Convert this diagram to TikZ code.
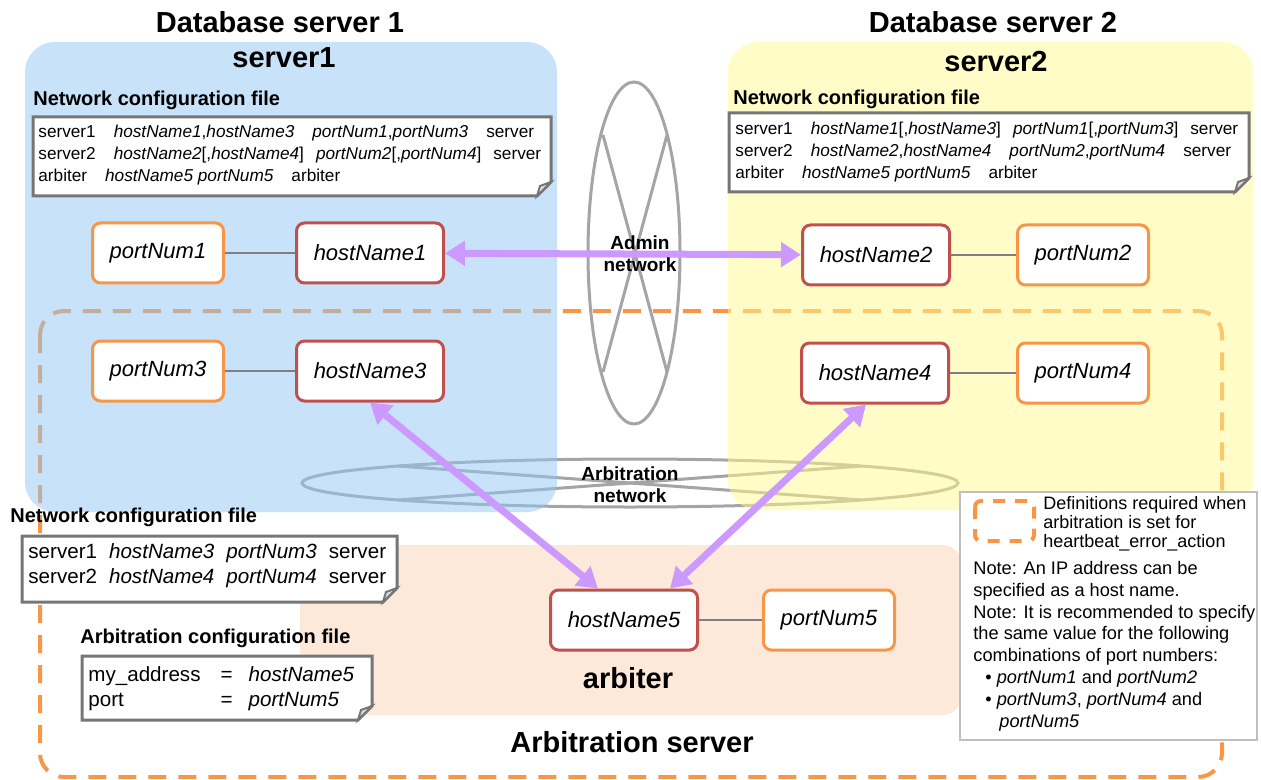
\documentclass[tikz,border=0pt]{standalone}
\usepackage{fontspec}
\setmainfont{Liberation Sans}
\usepackage{tikz}
\usetikzlibrary{calc, arrows.meta}

\definecolor{srvblue}{RGB}{145,197,245}
\definecolor{srvyellow}{RGB}{255,249,145}
\definecolor{arbpeach}{RGB}{253,233,217}
\definecolor{hostred}{RGB}{192,80,77}
\definecolor{portorange}{RGB}{247,150,70}
\definecolor{netpurple}{RGB}{204,153,255}
\definecolor{netgray}{RGB}{165,165,165}
\definecolor{filegray}{RGB}{118,118,118}

% folded-corner file box, corners in pixel units
\newcommand{\cfgfile}[4]{%
	\filldraw[filebox] (#1,#2) -- (#3,#2) -- (#3,#4-14) -- (#3-14,#4) -- (#1,#4) -- cycle;
	\filldraw[filefold] (#3,#4-14) -- (#3-11,#4-10) -- (#3-14,#4) -- cycle;
}
\newcommand{\colgap}{\hspace{9pt}}

\begin{document}
\begin{tikzpicture}[x=0.5pt, y=-0.5pt,
		title/.style={font=\fontsize{14.5}{17}\selectfont\bfseries},
		cfglabel/.style={anchor=west, inner sep=0pt, font=\fontsize{10}{12}\selectfont\bfseries},
		cfgtext/.style={anchor=west, inner sep=0pt, align=left, font=\fontsize{8.6}{11}\selectfont},
		arbtext/.style={anchor=west, inner sep=0pt, align=left, font=\fontsize{10.3}{12.5}\selectfont},
		legtext/.style={inner sep=0pt, align=left, font=\fontsize{9.1}{10.9}\selectfont},
		netname/.style={align=center, inner sep=1pt, font=\fontsize{9.5}{11}\selectfont\bfseries},
		hostbox/.style={draw=hostred, fill=white, line width=1.5pt, rounded corners=4pt, minimum width=73.5pt, minimum height=30pt, font=\fontsize{11}{13}\selectfont\itshape},
		portbox/.style={hostbox, draw=portorange, minimum width=65.5pt},
		link/.style={draw=gray, line width=1pt},
		netarrow/.style={netpurple, line width=3.5pt, {Triangle[width=12pt,length=10pt]}-{Triangle[width=12pt,length=10pt]}},
		netring/.style={netgray, line width=1.5pt},
		filebox/.style={draw=filegray, fill=white, line width=1.5pt},
		filefold/.style={draw=filegray, fill=gray!25, line width=1pt},
	]
	\useasboundingbox (0,0) rectangle (1261,780);

	% arbitration area (dashed) and arbitration network, under the servers
	\draw[portorange, line width=2pt, dash pattern=on 9pt off 6pt, rounded corners=12pt] (40,311) rectangle (1222,777);
	\draw[netring] (630,483) ellipse [x radius=328, y radius=24];
	\draw[netring] (398,466) -- (862,500);
	\draw[netring] (398,500) -- (862,466);

	\begin{scope}[fill opacity=0.5, rounded corners=15pt]
		\fill[srvblue] (25,42) rectangle (557,512);
		\fill[srvyellow] (728,42) rectangle (1253,510);
	\end{scope}
	\fill[arbpeach, rounded corners=10pt] (300,545) rectangle (962,715);

	% admin network
	\draw[netring] (634,253) ellipse [x radius=46, y radius=171];
	\draw[netring] (603,135) -- (667,372);
	\draw[netring] (667,135) -- (603,372);

	\node[title] (db1) at (280,22) {Database server 1};
	\node[title] (db2) at (993,22) {Database server 2};
	\node[title] (srv1) at (284,58) {server1};
	\node[title] (srv2) at (996,62) {server2};

	% configuration files
	\node[cfglabel] (nc1) at (33,100) {Network configuration file};
	\cfgfile{33}{117}{551}{196}
	\node[cfgtext] (file1) at (38,155) {server1\colgap\textit{hostName1},\textit{hostName3}\colgap\textit{portNum1},\textit{portNum3}\colgap server\\
		server2\colgap\textit{hostName2}[,\textit{hostName4}]\hspace{6pt}\textit{portNum2}[,\textit{portNum4}]\hspace{6pt}server\\
		arbiter\colgap\textit{hostName5} \textit{portNum5}\colgap arbiter};

	\node[cfglabel] (nc2) at (733,99) {Network configuration file};
	\cfgfile{729}{113}{1249}{192}
	\node[cfgtext] (file2) at (735,152) {server1\colgap\textit{hostName1}[,\textit{hostName3}]\hspace{6pt}\textit{portNum1}[,\textit{portNum3}]\hspace{6pt}server\\
		server2\colgap\textit{hostName2},\textit{hostName4}\colgap\textit{portNum2},\textit{portNum4}\colgap server\\
		arbiter\colgap\textit{hostName5} \textit{portNum5}\colgap arbiter};

	\node[cfglabel] (nc3) at (10,517) {Network configuration file};
	\cfgfile{22}{536}{397}{602}
	\node[arbtext] (file3) at (28,566) {server1\hspace{6pt}\textit{hostName3}\hspace{6pt}\textit{portNum3}\hspace{6pt}server\\
		server2\hspace{6pt}\textit{hostName4}\hspace{6pt}\textit{portNum4}\hspace{6pt}server};

	\node[cfglabel] (ac) at (80,638) {Arbitration configuration file};
	\cfgfile{82}{656}{372}{720}
	\node[arbtext] (file4) at (88,689) {\begin{tabular}{@{}l@{\hspace{10pt}}c@{\hspace{8pt}}l@{}}
			my\_address & = & \textit{hostName5}\\
			port & = & \textit{portNum5}
		\end{tabular}};

	% hosts and ports
	\node[portbox] (pn1) at (158,253) {portNum1};
	\node[hostbox] (hn1) at (370,253) {hostName1};
	\node[hostbox] (hn2) at (876,255) {hostName2};
	\node[portbox] (pn2) at (1083,255) {portNum2};
	\node[portbox] (pn3) at (158,371) {portNum3};
	\node[hostbox] (hn3) at (370,371) {hostName3};
	\node[hostbox] (hn4) at (875,373) {hostName4};
	\node[portbox] (pn4) at (1083,373) {portNum4};
	\node[hostbox] (hn5) at (624,620) {hostName5};
	\node[portbox] (pn5) at (829,620) {portNum5};

	\foreach \p/\h in {pn1/hn1, pn2/hn2, pn3/hn3, pn4/hn4, pn5/hn5}
	{
		\draw[link] (\p) -- (\h);
	}

	\draw[netarrow] (hn1) -- (hn2);
	\draw[netarrow] (hn3.south) -- ($(hn5.north)+(-26,0)$);
	\draw[netarrow] ($(hn4.south)+(-9,0)$) -- ($(hn5.north)+(46,0)$);

	\node[netname] (admnet) at (640,254) {Admin\\network};
	\node[netname] (arbnet) at (630,485) {Arbitration\\network};

	\node[title] (arb) at (628,678) {arbiter};
	\node[title] (arbsrv) at (632,742) {Arbitration server};

	% legend
	\filldraw[draw=gray!50, fill=white, line width=0.6pt] (960,492) rectangle (1257,740);
	\draw[portorange, line width=2pt, dash pattern=on 6pt off 5pt, rounded corners=3pt] (975,501) rectangle (1034,541);
	\node[legtext, anchor=west, font=\fontsize{9}{9.5}\selectfont] (legdef) at (1043,524) {Definitions required when\\arbitration is set for\\heartbeat\_error\_action};
	\node[legtext, anchor=north west] (legnote) at (973,561) {Note: An IP address can be\\
		specified as a host name.\\
		Note: It is recommended to specify\\
		the same value for the following\\
		combinations of port numbers:\\
		\hspace*{6pt}\textbullet\ \textit{portNum1} and \textit{portNum2}\\
		\hspace*{6pt}\textbullet\ \textit{portNum3}, \textit{portNum4} and\\
		\hspace*{13pt}\textit{portNum5}};
\end{tikzpicture}
\end{document}
